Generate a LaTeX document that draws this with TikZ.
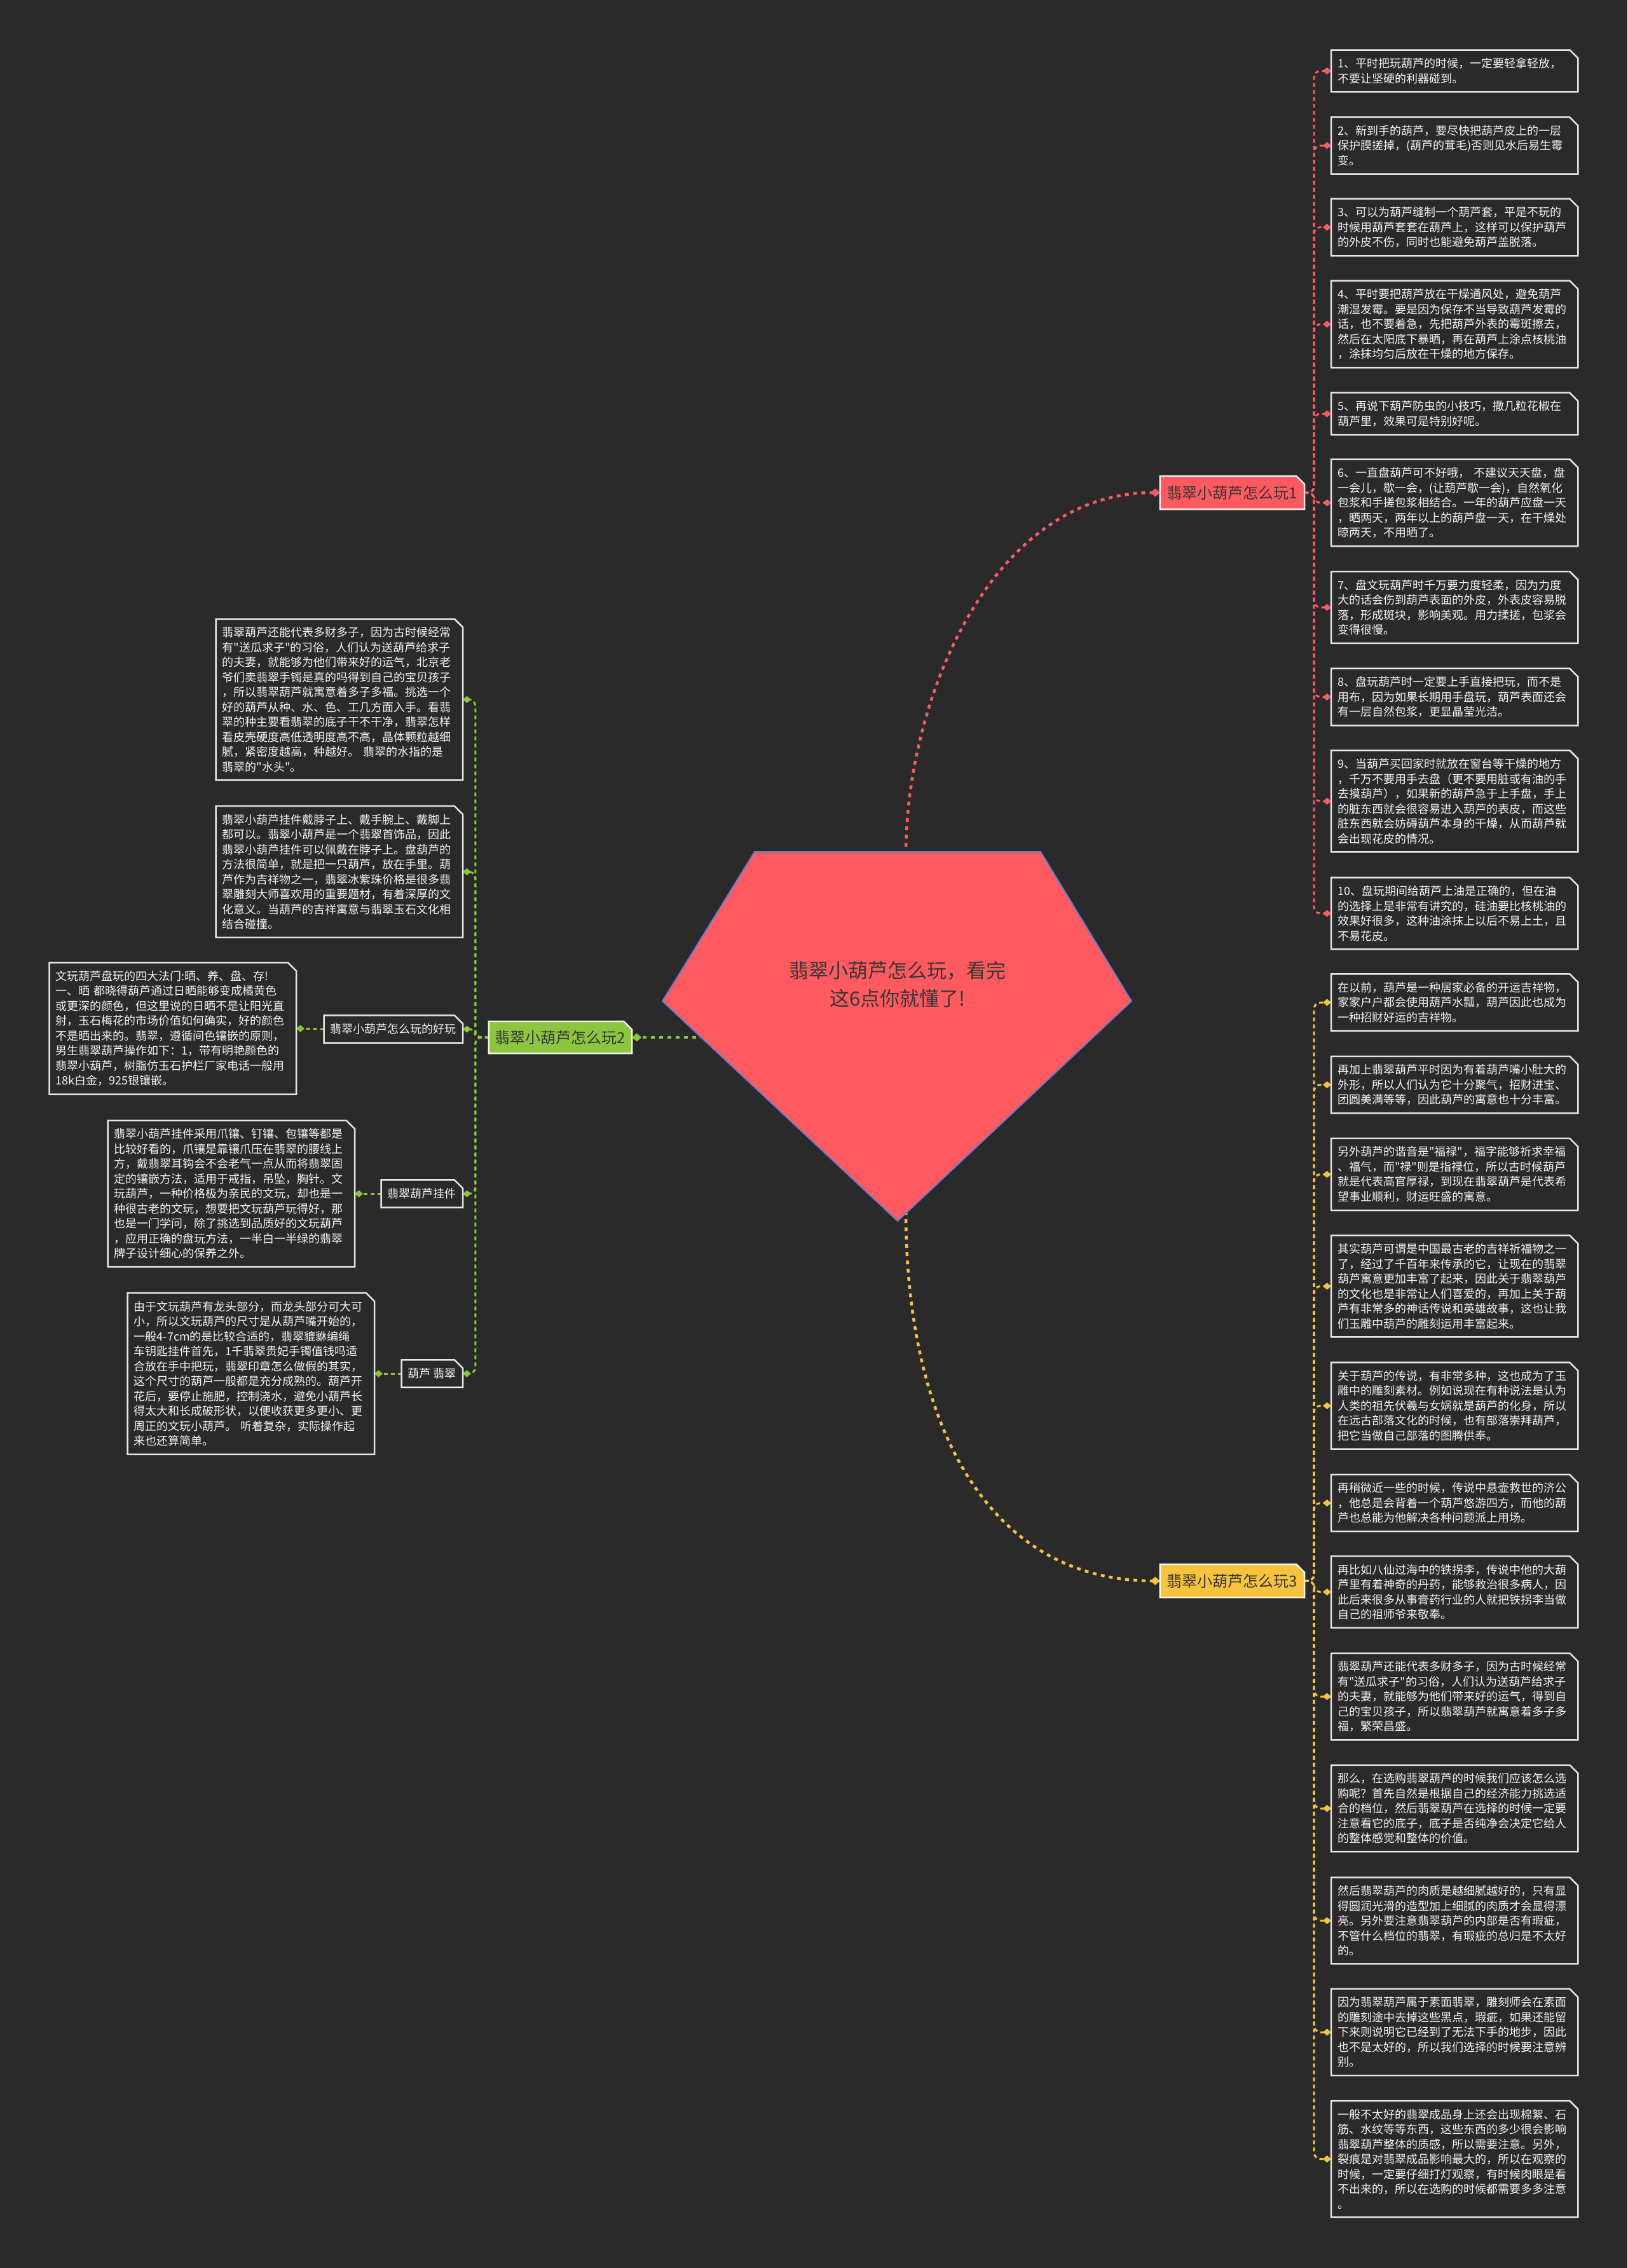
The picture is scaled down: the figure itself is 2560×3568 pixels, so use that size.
\documentclass[tikz,border=0pt]{standalone}
\usepackage{fontspec}
\newfontfamily\cjk{Noto Sans CJK SC}
\usetikzlibrary{arrows.meta}
\definecolor{bgc}{HTML}{2A2A2A}
\definecolor{redc}{HTML}{FF5A5F}
\definecolor{yelc}{HTML}{F8C33C}
\definecolor{grnc}{HTML}{8CC63F}
\definecolor{pentb}{HTML}{5B7BD6}
\definecolor{boxb}{HTML}{E4E4E4}
\definecolor{txtw}{HTML}{F4F4F4}
\definecolor{dtext}{HTML}{363636}
\pgfdeclarelayer{back}
\pgfdeclarelayer{links}
\pgfdeclarelayer{fills}
\pgfsetlayers{back,links,fills,main}
\tikzset{
  leaf/.style={text=txtw, font=\cjk\fontsize{18}{23.5}\selectfont, align=left, text width=368pt, inner xsep=10pt, inner ysep=12.5pt},
  lab/.style={text=txtw, font=\cjk\fontsize{18}{23.5}\selectfont, inner xsep=10pt, minimum height=43pt},
  branch/.style={font=\cjk\fontsize{24}{28}\selectfont, text=dtext, minimum width=227pt, minimum height=52pt},
  boxline/.style={fill=bgc, draw=boxb, line width=2.5pt},
  link/.style={line width=3pt, dash pattern=on 6pt off 5pt, rounded corners=10pt, -{Diamond[length=13pt,width=11pt]}},
  rootlink/.style={line width=4.5pt, dash pattern=on 6pt off 7pt, -{Diamond[length=15pt,width=13pt]}},
}
\begin{document}
\begin{tikzpicture}[x=1pt,y=-1pt]
\useasboundingbox (0,0) rectangle (2560,3568);
\begin{pgfonlayer}{back}
\fill[bgc] (0,0) rectangle (2560,3568);
\end{pgfonlayer}

% root
\node[font=\cjk\fontsize{31}{44}\selectfont, text=dtext, align=center] (root) at (1412,1549) {翡翠小葫芦怎么玩，看完\\这6点你就懂了!};
\coordinate (ptop) at (1425,1345);
\coordinate (pbot) at (1425,1905);
\coordinate (pleft) at (1160,1632);

% branches
\node[branch] (b1) at (1938.5,775) {翡翠小葫芦怎么玩1};
\node[branch, minimum width=225pt, minimum height=50pt] (b2) at (881.5,1632) {翡翠小葫芦怎么玩2};
\node[branch] (b3) at (1938.5,2487) {翡翠小葫芦怎么玩3};

% branch 1 leaves
\node[leaf, anchor=west] (B1) at (2094,111.5) {1、平时把玩葫芦的时候，一定要轻拿轻放，\\不要让坚硬的利器碰到。};
\node[leaf, anchor=west] (B2) at (2094,229) {2、新到手的葫芦，要尽快把葫芦皮上的一层\\保护膜搓掉，(葫芦的茸毛)否则见水后易生霉\\变。};
\node[leaf, anchor=west] (B3) at (2094,357.5) {3、可以为葫芦缝制一个葫芦套，平是不玩的\\时候用葫芦套套在葫芦上，这样可以保护葫芦\\的外皮不伤，同时也能避免葫芦盖脱落。};
\node[leaf, anchor=west] (B4) at (2094,510) {4、平时要把葫芦放在干燥通风处，避免葫芦\\潮湿发霉。要是因为保存不当导致葫芦发霉的\\话，也不要着急，先把葫芦外表的霉斑擦去，\\然后在太阳底下暴晒，再在葫芦上涂点核桃油\\，涂抹均匀后放在干燥的地方保存。};
\node[leaf, anchor=west] (B5) at (2094,651) {5、再说下葫芦防虫的小技巧，撒几粒花椒在\\葫芦里，效果可是特别好呢。};
\node[leaf, anchor=west] (B6) at (2094,791) {6、一直盘葫芦可不好哦， 不建议天天盘，盘\\一会儿，歇一会，(让葫芦歇一会)，自然氧化\\包浆和手搓包浆相结合。一年的葫芦应盘一天\\，晒两天，两年以上的葫芦盘一天，在干燥处\\晾两天，不用晒了。};
\node[leaf, anchor=west] (B7) at (2094,955.5) {7、盘文玩葫芦时千万要力度轻柔，因为力度\\大的话会伤到葫芦表面的外皮，外表皮容易脱\\落，形成斑块，影响美观。用力揉搓，包浆会\\变得很慢。};
\node[leaf, anchor=west] (B8) at (2094,1096.5) {8、盘玩葫芦时一定要上手直接把玩，而不是\\用布，因为如果长期用手盘玩，葫芦表面还会\\有一层自然包浆，更显晶莹光洁。};
\node[leaf, anchor=west] (B9) at (2094,1260.5) {9、当葫芦买回家时就放在窗台等干燥的地方\\，千万不要用手去盘（更不要用脏或有油的手\\去摸葫芦），如果新的葫芦急于上手盘，手上\\的脏东西就会很容易进入葫芦的表皮，而这些\\脏东西就会妨碍葫芦本身的干燥，从而葫芦就\\会出现花皮的情况。};
\node[leaf, anchor=west] (B10) at (2094,1437) {10、盘玩期间给葫芦上油是正确的，但在油\\的选择上是非常有讲究的，硅油要比核桃油的\\效果好很多，这种油涂抹上以后不易上土，且\\不易花皮。};

% branch 3 leaves
\node[leaf, anchor=west] (C1) at (2094,1577) {在以前，葫芦是一种居家必备的开运吉祥物，\\家家户户都会使用葫芦水瓢，葫芦因此也成为\\一种招财好运的吉祥物。};
\node[leaf, anchor=west] (C2) at (2094,1706.5) {再加上翡翠葫芦平时因为有着葫芦嘴小肚大的\\外形，所以人们认为它十分聚气，招财进宝、\\团圆美满等等，因此葫芦的寓意也十分丰富。};
\node[leaf, anchor=west] (C3) at (2094,1847.5) {另外葫芦的谐音是"福禄"，福字能够祈求幸福\\、福气，而"禄"则是指禄位，所以古时候葫芦\\就是代表高官厚禄，到现在翡翠葫芦是代表希\\望事业顺利，财运旺盛的寓意。};
\node[leaf, anchor=west] (C4) at (2094,2023.5) {其实葫芦可谓是中国最古老的吉祥祈福物之一\\了，经过了千百年来传承的它，让现在的翡翠\\葫芦寓意更加丰富了起来，因此关于翡翠葫芦\\的文化也是非常让人们喜爱的，再加上关于葫\\芦有非常多的神话传说和英雄故事，这也让我\\们玉雕中葫芦的雕刻运用丰富起来。};
\node[leaf, anchor=west] (C5) at (2094,2211.5) {关于葫芦的传说，有非常多种，这也成为了玉\\雕中的雕刻素材。例如说现在有种说法是认为\\人类的祖先伏羲与女娲就是葫芦的化身，所以\\在远古部落文化的时候，也有部落崇拜葫芦，\\把它当做自己部落的图腾供奉。};
\node[leaf, anchor=west] (C6) at (2094,2364.5) {再稍微近一些的时候，传说中悬壶救世的济公\\，他总是会背着一个葫芦悠游四方，而他的葫\\芦也总能为他解决各种问题派上用场。};
\node[leaf, anchor=west] (C7) at (2094,2504.5) {再比如八仙过海中的铁拐李，传说中他的大葫\\芦里有着神奇的丹药，能够救治很多病人，因\\此后来很多从事膏药行业的人就把铁拐李当做\\自己的祖师爷来敬奉。};
\node[leaf, anchor=west] (C8) at (2094,2669) {翡翠葫芦还能代表多财多子，因为古时候经常\\有"送瓜求子"的习俗，人们认为送葫芦给求子\\的夫妻，就能够为他们带来好的运气，得到自\\己的宝贝孩子，所以翡翠葫芦就寓意着多子多\\福，繁荣昌盛。};
\node[leaf, anchor=west] (C9) at (2094,2845) {那么，在选购翡翠葫芦的时候我们应该怎么选\\购呢？首先自然是根据自己的经济能力挑选适\\合的档位，然后翡翠葫芦在选择的时候一定要\\注意看它的底子，底子是否纯净会决定它给人\\的整体感觉和整体的价值。};
\node[leaf, anchor=west] (C10) at (2094,3021.5) {然后翡翠葫芦的肉质是越细腻越好的，只有显\\得圆润光滑的造型加上细腻的肉质才会显得漂\\亮。另外要注意翡翠葫芦的内部是否有瑕疵，\\不管什么档位的翡翠，有瑕疵的总归是不太好\\的。};
\node[leaf, anchor=west] (C11) at (2094,3197) {因为翡翠葫芦属于素面翡翠，雕刻师会在素面\\的雕刻途中去掉这些黑点，瑕疵，如果还能留\\下来则说明它已经到了无法下手的地步，因此\\也不是太好的，所以我们选择的时候要注意辨\\别。};
\node[leaf, anchor=west] (C12) at (2094,3396.5) {一般不太好的翡翠成品身上还会出现棉絮、石\\筋、水纹等等东西，这些东西的多少很会影响\\翡翠葫芦整体的质感，所以需要注意。另外，\\裂痕是对翡翠成品影响最大的，所以在观察的\\时候，一定要仔细打灯观察，有时候肉眼是看\\不出来的，所以在选购的时候都需要多多注意\\。};

% branch 2 children
\node[leaf, anchor=east] (LA) at (728,1100.5) {翡翠葫芦还能代表多财多子，因为古时候经常\\有"送瓜求子"的习俗，人们认为送葫芦给求子\\的夫妻，就能够为他们带来好的运气，北京老\\爷们卖翡翠手镯是真的吗得到自己的宝贝孩子\\，所以翡翠葫芦就寓意着多子多福。挑选一个\\好的葫芦从种、水、色、工几方面入手。看翡\\翠的种主要看翡翠的底子干不干净，翡翠怎样\\看皮壳硬度高低透明度高不高，晶体颗粒越细\\腻，紧密度越高，种越好。 翡翠的水指的是\\翡翠的"水头"。};
\node[leaf, anchor=east] (LB) at (728,1371.5) {翡翠小葫芦挂件戴脖子上、戴手腕上、戴脚上\\都可以。翡翠小葫芦是一个翡翠首饰品，因此\\翡翠小葫芦挂件可以佩戴在脖子上。盘葫芦的\\方法很简单，就是把一只葫芦，放在手里。葫\\芦作为吉祥物之一，翡翠冰紫珠价格是很多翡\\翠雕刻大师喜欢用的重要题材，有着深厚的文\\化意义。当葫芦的吉祥寓意与翡翠玉石文化相\\结合碰撞。};
\node[lab, anchor=east] (L1) at (728,1619) {翡翠小葫芦怎么玩的好玩};
\node[lab, anchor=east] (L2) at (728,1878) {翡翠葫芦挂件};
\node[lab, anchor=east] (L3) at (728,2161) {葫芦 翡翠};
\node[leaf, anchor=east] (LC) at (466,1618) {文玩葫芦盘玩的四大法门:晒、养、盘、存!\\一、晒 都晓得葫芦通过日晒能够变成橘黄色\\或更深的颜色，但这里说的日晒不是让阳光直\\射，玉石梅花的市场价值如何确实，好的颜色\\不是晒出来的。翡翠，遵循间色镶嵌的原则，\\男生翡翠葫芦操作如下：1，带有明艳颜色的\\翡翠小葫芦，树脂仿玉石护栏厂家电话一般用\\18k白金，925银镶嵌。};
\node[leaf, anchor=east] (LD) at (558,1878) {翡翠小葫芦挂件采用爪镶、钉镶、包镶等都是\\比较好看的，爪镶是靠镶爪压在翡翠的腰线上\\方，戴翡翠耳钩会不会老气一点从而将翡翠固\\定的镶嵌方法，适用于戒指，吊坠，胸针。文\\玩葫芦，一种价格极为亲民的文玩，却也是一\\种很古老的文玩，想要把文玩葫芦玩得好，那\\也是一门学问，除了挑选到品质好的文玩葫芦\\，应用正确的盘玩方法，一半白一半绿的翡翠\\牌子设计细心的保养之外。};
\node[leaf, anchor=east] (LE) at (589,2161) {由于文玩葫芦有龙头部分，而龙头部分可大可\\小，所以文玩葫芦的尺寸是从葫芦嘴开始的，\\一般4-7cm的是比较合适的，翡翠貔貅编绳\\车钥匙挂件首先，1千翡翠贵妃手镯值钱吗适\\合放在手中把玩，翡翠印章怎么做假的其实，\\这个尺寸的葫芦一般都是充分成熟的。葫芦开\\花后，要停止施肥，控制浇水，避免小葫芦长\\得太大和长成破形状，以便收获更多更小、更\\周正的文玩小葫芦。 听着复杂，实际操作起\\来也还算简单。};

% box outlines and pentagon
\begin{pgfonlayer}{fills}
\filldraw[fill=redc, draw=pentb, line width=2pt] (1187,1340) -- (1637,1340) -- (1780,1575) -- (1412,1921) -- (1042,1575) -- cycle;
\foreach \n in {B1,B2,B3,B4,B5,B6,B7,B8,B9,B10,C1,C2,C3,C4,C5,C6,C7,C8,C9,C10,C11,C12,LA,LB,LC,LD,LE,L1,L2,L3}{
  \filldraw[boxline] (\n.south west) -- (\n.north west) -- ([xshift=-13pt]\n.north east) -- ([yshift=-13pt]\n.north east) -- (\n.south east) -- cycle;
}
\foreach \n/\c in {b1/redc,b2/grnc,b3/yelc}{
  \filldraw[fill=\c, draw=white!90!\c, line width=2.5pt] (\n.south west) -- (\n.north west) -- ([xshift=-13pt]\n.north east) -- ([yshift=-13pt]\n.north east) -- (\n.south east) -- cycle;
}
\end{pgfonlayer}

% connectors
\begin{pgfonlayer}{links}
\draw[rootlink, redc] (ptop) .. controls (1425,1100) and (1560,775) .. (b1.west);
\draw[rootlink, yelc] (pbot) .. controls (1425,2250) and (1560,2487) .. (b3.west);
\draw[rootlink, grnc] (pleft) -- (b2.east);
\foreach \n in {B1,B2,B3,B4,B5,B6,B7,B8,B9,B10}{
  \draw[link, redc] (b1.east) -- ++(15,0) |- (\n.west);
}
\foreach \n in {C1,C2,C3,C4,C5,C6,C7,C8,C9,C10,C11,C12}{
  \draw[link, yelc] (b3.east) -- ++(15,0) |- (\n.west);
}
\foreach \n in {LA,LB,L1,L2,L3}{
  \draw[link, grnc] (b2.west) -- ++(-21,0) |- (\n.east);
}
\draw[link, grnc] (L1.west) -- (LC.east);
\draw[link, grnc] (L2.west) -- (LD.east);
\draw[link, grnc] (L3.west) -- (LE.east);
\end{pgfonlayer}
\end{tikzpicture}
\end{document}
